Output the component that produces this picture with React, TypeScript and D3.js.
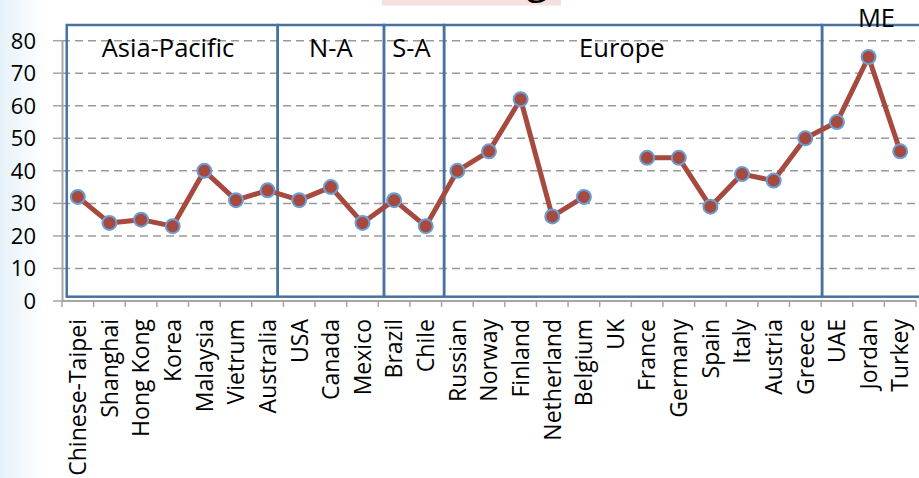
import { useEffect, useRef } from 'react';
import * as d3 from 'd3';

const categories = [
	'Chinese-Taipei', 'Shanghai', 'Hong Kong', 'Korea', 'Malaysia', 'Vietrum', 'Australia',
	'USA', 'Canada', 'Mexico',
	'Brazil', 'Chile',
	'Russian', 'Norway', 'Finland', 'Netherland', 'Belgium', 'UK', 'France', 'Germany',
	'Spain', 'Italy', 'Austria', 'Greece',
	'UAE', 'Jordan', 'Turkey',
];

const values: (number | null)[] = [
	32, 24, 25, 23, 40, 31, 34,
	31, 35, 24,
	31, 23,
	40, 46, 62, 26, 32, null, 44, 44,
	29, 39, 37, 50,
	55, 75, 46,
];

const yTicks = [0, 10, 20, 30, 40, 50, 60, 70, 80];

// region boxes, edges in category units
const regions = [
	{ name: 'Asia-Pacific', from: 0.15, to: 6.82, labelAt: 3.35 },
	{ name: 'N-A', from: 6.82, to: 10.18, labelAt: 8.5 },
	{ name: 'S-A', from: 10.18, to: 12.08, labelAt: 11.05 },
	{ name: 'Europe', from: 12.08, to: 24.03, labelAt: 17.7 },
	{ name: 'ME', from: 24.03, to: 27.6, labelAt: 25.75 },
];

export default function App() {
	const svgRef = useRef<SVGSVGElement | null>(null);
	const width = 919;
	const height = 478;

	useEffect(() => {
		if (!svgRef.current) return;
		const svg = d3.select(svgRef.current);
		svg.selectAll('*').remove();

		const left = 62;
		const right = 916;
		const font = "'Open Sans', sans-serif";

		const x = d3.scaleBand<string>().domain(categories).range([left, right]).padding(0);
		const xi = d3.scaleLinear().domain([0, categories.length]).range([left, right]);
		const y = d3.scaleLinear().domain([0, 80]).range([301, 40.7]);

		// faint slide background at left
		const defs = svg.append('defs');
		const grad = defs.append('linearGradient').attr('id', 'bg').attr('x1', 0).attr('x2', 1);
		grad.append('stop').attr('offset', '0%').attr('stop-color', '#e6f2fa');
		grad.append('stop').attr('offset', '100%').attr('stop-color', '#ffffff');
		svg.append('rect').attr('x', 0).attr('y', 0).attr('width', 45).attr('height', height).attr('fill', 'url(#bg)');

		// cut-off title
		svg.append('rect').attr('x', 382).attr('y', 0).attr('width', 179).attr('height', 5.5).attr('fill', '#f5e0de');
		svg.append('text').attr('x', 548).attr('y', -7).attr('text-anchor', 'end')
			.style('font-family', font).style('font-size', '40px').attr('fill', '#000').text('Ranking');

		// grid
		svg.append('g').selectAll('line').data(yTicks.filter((t) => t > 0)).join('line')
			.attr('x1', left).attr('x2', width).attr('y1', (d) => y(d)).attr('y2', (d) => y(d))
			.attr('stroke', '#9a9a9a').attr('stroke-width', 1.5).attr('stroke-dasharray', '8,5');

		// y axis
		const yAxis = svg.append('g');
		yAxis.append('line').attr('x1', left + 0.5).attr('x2', left + 0.5).attr('y1', y(80)).attr('y2', y(0))
			.attr('stroke', '#a6a6a6').attr('stroke-width', 2);
		yAxis.selectAll('line.tick').data(yTicks).join('line').attr('class', 'tick')
			.attr('x1', 53).attr('x2', left).attr('y1', (d) => y(d)).attr('y2', (d) => y(d))
			.attr('stroke', '#a6a6a6').attr('stroke-width', 1.5);
		yAxis.selectAll('text').data(yTicks).join('text')
			.attr('x', 36).attr('y', (d) => y(d)).attr('dy', '0.36em').attr('text-anchor', 'end')
			.style('font-family', font).style('font-size', '22px').attr('fill', '#000').text((d) => d);

		// x axis
		const xAxis = svg.append('g');
		xAxis.append('line').attr('x1', left).attr('x2', right).attr('y1', y(0)).attr('y2', y(0))
			.attr('stroke', '#a6a6a6').attr('stroke-width', 2);
		xAxis.selectAll('line.tick').data(d3.range(categories.length + 1)).join('line').attr('class', 'tick')
			.attr('x1', (d) => xi(d)).attr('x2', (d) => xi(d)).attr('y1', y(0)).attr('y2', y(0) + 6)
			.attr('stroke', '#a6a6a6').attr('stroke-width', 1.5);
		xAxis.selectAll('text').data(categories).join('text')
			.attr('transform', (d) => `translate(${x(d)! + x.bandwidth() / 2},319) rotate(-90)`)
			.attr('dy', '0.36em').attr('text-anchor', 'end')
			.style('font-family', font).style('font-size', '23px').attr('fill', '#000').text((d) => d);

		// region boxes
		const boxTop = 25;
		const boxBottom = 296.7;
		const rg = svg.append('g');
		rg.selectAll('rect').data(regions).join('rect')
			.attr('x', (d) => xi(d.from)).attr('width', (d) => xi(d.to) - xi(d.from))
			.attr('y', boxTop).attr('height', boxBottom - boxTop)
			.attr('fill', 'none').attr('stroke', '#4a72a0').attr('stroke-width', 2.5);
		rg.selectAll('text').data(regions).join('text')
			.attr('x', (d) => xi(d.labelAt)).attr('y', (d) => (d.name === 'ME' ? 27 : 57))
			.attr('text-anchor', 'middle')
			.style('font-family', font).style('font-size', '25.5px').attr('fill', '#000').text((d) => d.name);

		// line + markers
		const pts = categories.map((c, i) => ({ c, v: values[i] }));
		const line = d3.line<{ c: string; v: number | null }>()
			.defined((d) => d.v != null)
			.x((d) => x(d.c)! + x.bandwidth() / 2)
			.y((d) => y(d.v as number));
		svg.append('path').datum(pts).attr('d', line).attr('fill', 'none')
			.attr('stroke', '#a6493f').attr('stroke-width', 5).attr('stroke-linejoin', 'round');
		svg.append('g').selectAll('circle').data(pts.filter((d) => d.v != null)).join('circle')
			.attr('cx', (d) => x(d.c)! + x.bandwidth() / 2).attr('cy', (d) => y(d.v as number))
			.attr('r', 7).attr('fill', '#a6493f').attr('stroke', '#6a9fd6').attr('stroke-width', 2);
	}, []);

	return (
		<svg ref={svgRef} width={width} height={height} style={{ display: 'block', position: 'absolute', left: 0, top: 0 }} />
	);
}
